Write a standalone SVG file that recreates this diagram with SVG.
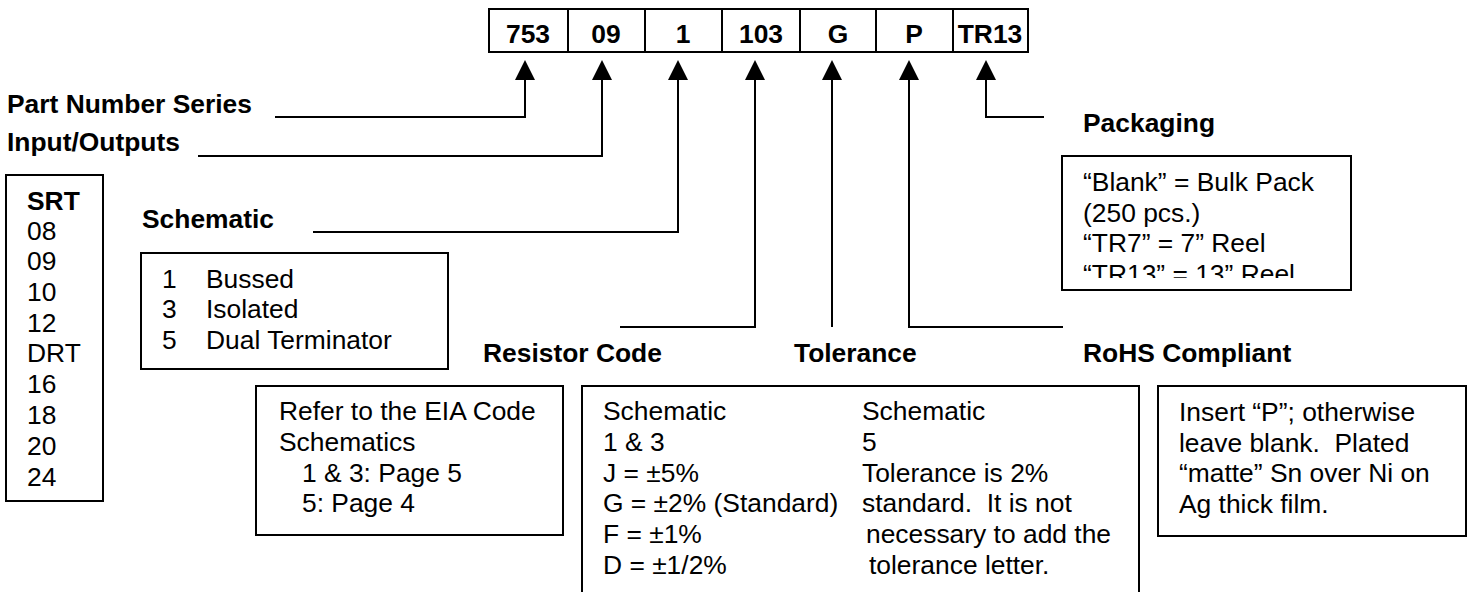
<svg xmlns="http://www.w3.org/2000/svg" width="1472" height="592" viewBox="0 0 1472 592">
<defs>
<style>
text{font-family:"Liberation Sans",Arial,sans-serif;font-size:26.4px;fill:#000}
.b{font-weight:bold}
.c{text-anchor:middle}
.box{fill:#fff;stroke:#000;stroke-width:2}
.ln{fill:none;stroke:#000;stroke-width:2}
</style>
<clipPath id="pk"><rect x="1063" y="157" width="287" height="121"/></clipPath>
</defs>
<rect width="1472" height="592" fill="#fff"/>

<g id="code">
<rect class="box" x="489" y="9" width="539" height="43"/>
<path class="ln" d="M568,9V52M645,9V52M722,9V52M800,9V52M876,9V52M953,9V52"/>
<text class="b c" x="528" y="43">753</text>
<text class="b c" x="606" y="43">09</text>
<text class="b c" x="683" y="43">1</text>
<text class="b c" x="761" y="43">103</text>
<text class="b c" x="838" y="43">G</text>
<text class="b c" x="914" y="43">P</text>
<text class="b c" x="990" y="43">TR13</text>
</g>

<g id="connectors">
<path class="ln" d="M275,117H525V78"/>
<path d="M515,80L525,60L535,80Z"/>
<path class="ln" d="M198,156H602V78"/>
<path d="M592,80L602,60L612,80Z"/>
<path class="ln" d="M313,232H678V78"/>
<path d="M668,80L678,60L688,80Z"/>
<path class="ln" d="M620,327H755V78"/>
<path d="M745,80L755,60L765,80Z"/>
<path class="ln" d="M832,327V78"/>
<path d="M822,80L832,60L842,80Z"/>
<path class="ln" d="M1063,327H909V78"/>
<path d="M899,80L909,60L919,80Z"/>
<path class="ln" d="M1044,117H986V78"/>
<path d="M976,80L986,60L996,80Z"/>
</g>

<g id="part-number-series"><text class="b" x="7" y="113">Part Number Series</text></g>
<g id="input-outputs"><text class="b" x="7" y="151">Input/Outputs</text></g>

<g id="srt">
<rect class="box" x="6" y="175" width="97" height="326"/>
<text class="b" x="27" y="210">SRT</text>
<text x="27" y="240">08</text>
<text x="27" y="270">09</text>
<text x="27" y="301">10</text>
<text x="27" y="332">12</text>
<text x="27" y="362">DRT</text>
<text x="27" y="393">16</text>
<text x="27" y="424">18</text>
<text x="27" y="455">20</text>
<text x="27" y="486">24</text>
</g>

<g id="schematic">
<text class="b" x="142" y="228">Schematic</text>
<rect class="box" x="141" y="253" width="307" height="116"/>
<text x="162" y="288">1</text><text x="206" y="288">Bussed</text>
<text x="162" y="318">3</text><text x="206" y="318">Isolated</text>
<text x="162" y="349">5</text><text x="206" y="349">Dual Terminator</text>
</g>

<g id="resistor-code">
<text class="b" x="483" y="362">Resistor Code</text>
<rect class="box" x="256" y="386" width="307" height="149"/>
<text x="279" y="420">Refer to the EIA Code</text>
<text x="279" y="451">Schematics</text>
<text x="302" y="482">1 &amp; 3: Page 5</text>
<text x="302" y="512">5: Page 4</text>
</g>

<g id="tolerance">
<text class="b" x="794" y="362">Tolerance</text>
<rect class="box" x="582" y="386" width="557" height="220"/>
<text x="603" y="420">Schematic</text>
<text x="603" y="451">1 &amp; 3</text>
<text x="603" y="482">J = ±5%</text>
<text x="603" y="512">G = ±2% (Standard)</text>
<text x="603" y="543">F = ±1%</text>
<text x="603" y="574">D = ±1/2%</text>
<text x="862" y="420">Schematic</text>
<text x="862" y="451">5</text>
<text x="862" y="482">Tolerance is 2%</text>
<text x="862" y="512" xml:space="preserve">standard.  It is not</text>
<text x="866" y="543">necessary to add the</text>
<text x="869" y="574">tolerance letter.</text>
</g>

<g id="rohs">
<text class="b" x="1083" y="362">RoHS Compliant</text>
<rect class="box" x="1158" y="386" width="308" height="150"/>
<text x="1179" y="421">Insert “P”; otherwise</text>
<text x="1179" y="452" xml:space="preserve">leave blank.  Plated</text>
<text x="1179" y="482">“matte” Sn over Ni on</text>
<text x="1179" y="513">Ag thick film.</text>
</g>

<g id="packaging">
<text class="b" x="1083" y="132">Packaging</text>
<rect class="box" x="1062" y="156" width="289" height="134"/>
<g clip-path="url(#pk)">
<text x="1083" y="191">“Blank” = Bulk Pack</text>
<text x="1083" y="222">(250 pcs.)</text>
<text x="1083" y="252">“TR7” = 7” Reel</text>
<text x="1083" y="283">“TR13” = 13” Reel</text>
</g>
</g>
</svg>
